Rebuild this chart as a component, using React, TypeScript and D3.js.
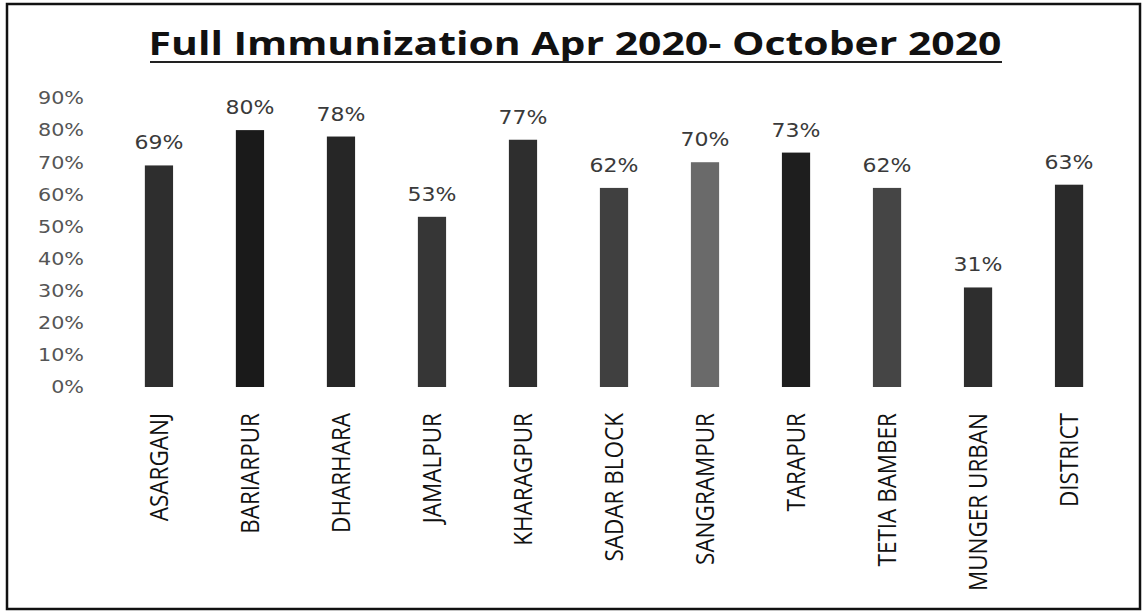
import * as d3 from 'd3'

const title = 'Full Immunization Apr 2020- October 2020'
const blocks = [
  'ASARGANJ', 'BARIARPUR', 'DHARHARA', 'JAMALPUR', 'KHARAGPUR', 'SADAR BLOCK',
  'SANGRAMPUR', 'TARAPUR', 'TETIA BAMBER', 'MUNGER URBAN', 'DISTRICT',
]
const coverage = [69, 80, 78, 53, 77, 62, 70, 73, 62, 31, 63]
const yTicks = [0, 10, 20, 30, 40, 50, 60, 70, 80, 90]

// scanned print: bars come out in slightly different greys
const barShades = ['#2e2e2e', '#1a1a1a', '#262626', '#363636', '#2e2e2e', '#404040', '#6a6a6a', '#1e1e1e', '#454545', '#2e2e2e', '#2a2a2a']

export default function App() {
  const width = 1146
  const height = 612

  const x = d3.scaleBand().domain(blocks).range([113, 1115]).paddingInner(0.69).paddingOuter(0.35)
  const y = d3.scaleLinear().domain([0, 90]).range([387, 98])

  const font = 'Open Sans'
  const numFont = 'DejaVu Sans'

  return (
    <svg width={width} height={height} style={{position: 'absolute', left: 0, top: 0}}>
      <rect x={0} y={0} width={width} height={height} fill={'#fff'} />
      <rect x={7} y={4} width={1133} height={605} fill={'none'} stroke={'#111'} strokeWidth={2.5} />

      <text
        transform={`translate(575, 55) scale(1.24, 1)`}
        textAnchor={'middle'}
        fontFamily={font}
        fontWeight={700}
        fontSize={33}
        fill={'#111'}
      >
        {title}
      </text>
      <line x1={150} x2={1002} y1={62} y2={62} stroke={'#222'} strokeWidth={2} />

      <g fontFamily={numFont} fontSize={18} fill={'#555'}>
        {yTicks.map(t => (
          <text key={t} transform={`translate(84, ${y(t)}) scale(1.15, 1)`} dy={'0.35em'} textAnchor={'end'}>
            {t}%
          </text>
        ))}
      </g>

      {blocks.map((b, i) => {
        const cx = (x(b) ?? 0) + x.bandwidth() / 2
        return (
          <g key={b}>
            <rect
              x={x(b)}
              y={y(coverage[i])}
              width={x.bandwidth()}
              height={y(0) - y(coverage[i])}
              fill={barShades[i]}
            />
            <text
              transform={`translate(${cx}, ${y(coverage[i]) - 16}) scale(1.1, 1)`}
              textAnchor={'middle'}
              fontFamily={numFont}
              fontSize={20}
              fill={'#3a3a3a'}
            >
              {coverage[i]}%
            </text>
            <text
              transform={`translate(${cx}, 413) rotate(-90) scale(0.9, 1)`}
              textAnchor={'end'}
              dy={'0.35em'}
              fontFamily={font}
              fontSize={25}
              fill={'#111'}
            >
              {b}
            </text>
          </g>
        )
      })}
    </svg>
  )
}
